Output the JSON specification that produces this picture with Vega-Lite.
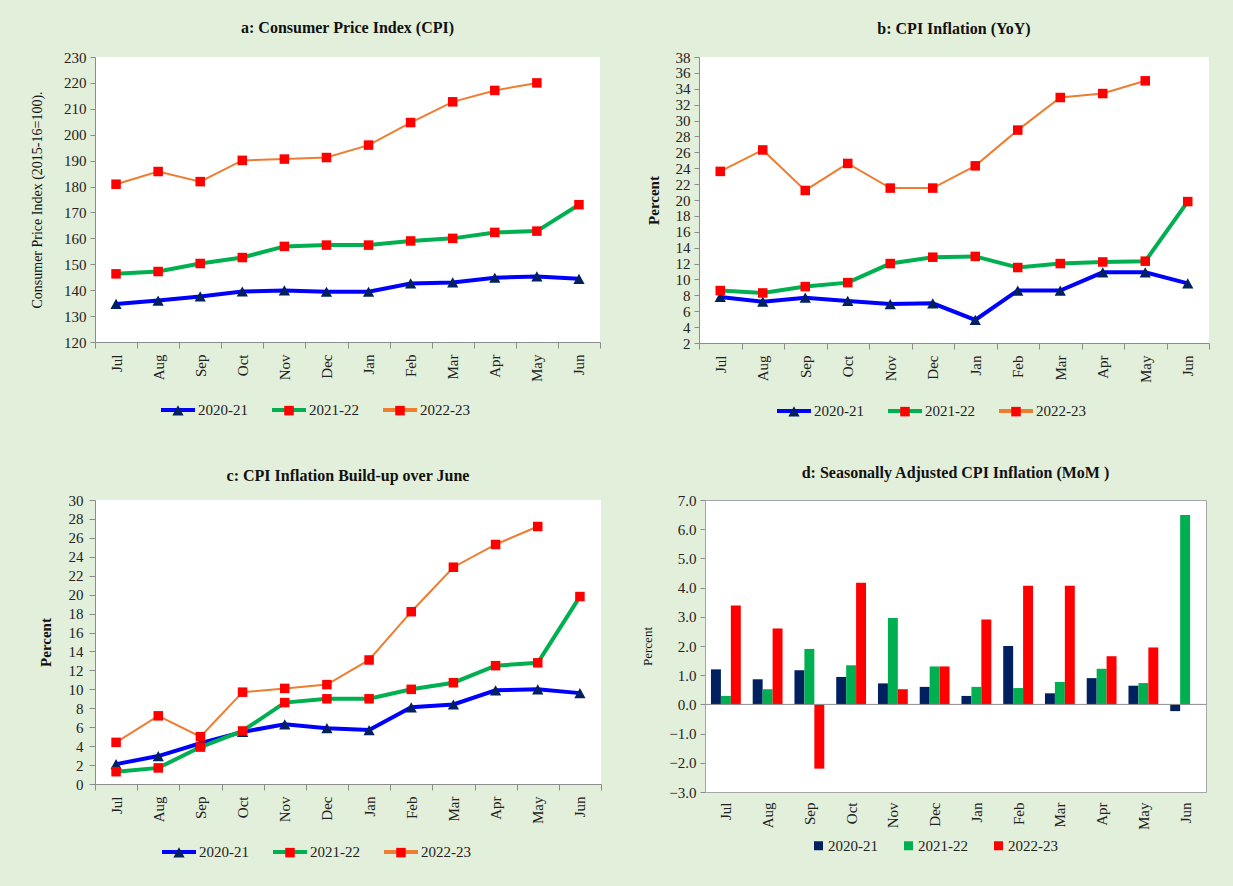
{
  "$schema": "https://vega.github.io/schema/vega-lite/v6.json",
  "background": "#e2efda",
  "padding": {"left": 30, "top": 20, "right": 23, "bottom": 35},
  "config": {
    "font": "Liberation Serif",
    "view": {"stroke": null, "fill": "white"},
    "axis": {"labelFont": "Liberation Serif", "labelFontSize": 15, "labelColor": "#222", "domainColor": "#8c8c8c", "tickColor": "#8c8c8c", "grid": false, "titleFont": "Liberation Serif", "titleColor": "#111"},
    "title": {"font": "Liberation Serif", "fontSize": 16, "fontWeight": "bold", "color": "#111", "anchor": "middle"},
    "legend": {"labelFont": "Liberation Serif", "labelFontSize": 15, "labelColor": "#222", "padding": 0}
  },
  "datasets": {
    "cpi": [
      {"m":"Jul","s":"2020-21","v":134.7},{"m":"Aug","s":"2020-21","v":136.0},{"m":"Sep","s":"2020-21","v":137.6},{"m":"Oct","s":"2020-21","v":139.5},{"m":"Nov","s":"2020-21","v":139.9},{"m":"Dec","s":"2020-21","v":139.4},{"m":"Jan","s":"2020-21","v":139.4},{"m":"Feb","s":"2020-21","v":142.6},{"m":"Mar","s":"2020-21","v":143.0},{"m":"Apr","s":"2020-21","v":144.8},{"m":"May","s":"2020-21","v":145.3},{"m":"Jun","s":"2020-21","v":144.4},
      {"m":"Jul","s":"2021-22","v":146.3},{"m":"Aug","s":"2021-22","v":147.2},{"m":"Sep","s":"2021-22","v":150.3},{"m":"Oct","s":"2021-22","v":152.6},{"m":"Nov","s":"2021-22","v":156.9},{"m":"Dec","s":"2021-22","v":157.4},{"m":"Jan","s":"2021-22","v":157.4},{"m":"Feb","s":"2021-22","v":159.0},{"m":"Mar","s":"2021-22","v":160.0},{"m":"Apr","s":"2021-22","v":162.3},{"m":"May","s":"2021-22","v":162.8},{"m":"Jun","s":"2021-22","v":173.0},
      {"m":"Jul","s":"2022-23","v":180.9},{"m":"Aug","s":"2022-23","v":185.8},{"m":"Sep","s":"2022-23","v":181.9},{"m":"Oct","s":"2022-23","v":190.1},{"m":"Nov","s":"2022-23","v":190.6},{"m":"Dec","s":"2022-23","v":191.2},{"m":"Jan","s":"2022-23","v":196.0},{"m":"Feb","s":"2022-23","v":204.7},{"m":"Mar","s":"2022-23","v":212.7},{"m":"Apr","s":"2022-23","v":217.1},{"m":"May","s":"2022-23","v":220.0}
    ],
    "yoy": [
      {"m":"Jul","s":"2020-21","v":7.8},{"m":"Aug","s":"2020-21","v":7.2},{"m":"Sep","s":"2020-21","v":7.7},{"m":"Oct","s":"2020-21","v":7.3},{"m":"Nov","s":"2020-21","v":6.9},{"m":"Dec","s":"2020-21","v":7.0},{"m":"Jan","s":"2020-21","v":4.9},{"m":"Feb","s":"2020-21","v":8.6},{"m":"Mar","s":"2020-21","v":8.6},{"m":"Apr","s":"2020-21","v":10.9},{"m":"May","s":"2020-21","v":10.9},{"m":"Jun","s":"2020-21","v":9.5},
      {"m":"Jul","s":"2021-22","v":8.6},{"m":"Aug","s":"2021-22","v":8.3},{"m":"Sep","s":"2021-22","v":9.1},{"m":"Oct","s":"2021-22","v":9.6},{"m":"Nov","s":"2021-22","v":12.0},{"m":"Dec","s":"2021-22","v":12.8},{"m":"Jan","s":"2021-22","v":12.9},{"m":"Feb","s":"2021-22","v":11.5},{"m":"Mar","s":"2021-22","v":12.0},{"m":"Apr","s":"2021-22","v":12.2},{"m":"May","s":"2021-22","v":12.3},{"m":"Jun","s":"2021-22","v":19.8},
      {"m":"Jul","s":"2022-23","v":23.6},{"m":"Aug","s":"2022-23","v":26.3},{"m":"Sep","s":"2022-23","v":21.2},{"m":"Oct","s":"2022-23","v":24.6},{"m":"Nov","s":"2022-23","v":21.5},{"m":"Dec","s":"2022-23","v":21.5},{"m":"Jan","s":"2022-23","v":24.3},{"m":"Feb","s":"2022-23","v":28.8},{"m":"Mar","s":"2022-23","v":32.9},{"m":"Apr","s":"2022-23","v":33.4},{"m":"May","s":"2022-23","v":35.0}
    ],
    "buildup": [
      {"m":"Jul","s":"2020-21","v":2.1},{"m":"Aug","s":"2020-21","v":2.95},{"m":"Sep","s":"2020-21","v":4.3},{"m":"Oct","s":"2020-21","v":5.5},{"m":"Nov","s":"2020-21","v":6.3},{"m":"Dec","s":"2020-21","v":5.9},{"m":"Jan","s":"2020-21","v":5.7},{"m":"Feb","s":"2020-21","v":8.1},{"m":"Mar","s":"2020-21","v":8.4},{"m":"Apr","s":"2020-21","v":9.9},{"m":"May","s":"2020-21","v":10.0},{"m":"Jun","s":"2020-21","v":9.6},
      {"m":"Jul","s":"2021-22","v":1.3},{"m":"Aug","s":"2021-22","v":1.7},{"m":"Sep","s":"2021-22","v":3.9},{"m":"Oct","s":"2021-22","v":5.6},{"m":"Nov","s":"2021-22","v":8.6},{"m":"Dec","s":"2021-22","v":9.0},{"m":"Jan","s":"2021-22","v":9.0},{"m":"Feb","s":"2021-22","v":10.0},{"m":"Mar","s":"2021-22","v":10.7},{"m":"Apr","s":"2021-22","v":12.5},{"m":"May","s":"2021-22","v":12.8},{"m":"Jun","s":"2021-22","v":19.8},
      {"m":"Jul","s":"2022-23","v":4.4},{"m":"Aug","s":"2022-23","v":7.2},{"m":"Sep","s":"2022-23","v":5.0},{"m":"Oct","s":"2022-23","v":9.7},{"m":"Nov","s":"2022-23","v":10.1},{"m":"Dec","s":"2022-23","v":10.5},{"m":"Jan","s":"2022-23","v":13.1},{"m":"Feb","s":"2022-23","v":18.2},{"m":"Mar","s":"2022-23","v":22.9},{"m":"Apr","s":"2022-23","v":25.3},{"m":"May","s":"2022-23","v":27.2}
    ],
    "mom": [
      {"m":"Jul","s":"2020-21","v":1.2},{"m":"Aug","s":"2020-21","v":0.86},{"m":"Sep","s":"2020-21","v":1.17},{"m":"Oct","s":"2020-21","v":0.94},{"m":"Nov","s":"2020-21","v":0.72},{"m":"Dec","s":"2020-21","v":0.6},{"m":"Jan","s":"2020-21","v":0.29},{"m":"Feb","s":"2020-21","v":2.0},{"m":"Mar","s":"2020-21","v":0.38},{"m":"Apr","s":"2020-21","v":0.9},{"m":"May","s":"2020-21","v":0.64},{"m":"Jun","s":"2020-21","v":-0.23},
      {"m":"Jul","s":"2021-22","v":0.29},{"m":"Aug","s":"2021-22","v":0.52},{"m":"Sep","s":"2021-22","v":1.9},{"m":"Oct","s":"2021-22","v":1.34},{"m":"Nov","s":"2021-22","v":2.96},{"m":"Dec","s":"2021-22","v":1.3},{"m":"Jan","s":"2021-22","v":0.6},{"m":"Feb","s":"2021-22","v":0.56},{"m":"Mar","s":"2021-22","v":0.77},{"m":"Apr","s":"2021-22","v":1.22},{"m":"May","s":"2021-22","v":0.73},{"m":"Jun","s":"2021-22","v":6.49},
      {"m":"Jul","s":"2022-23","v":3.39},{"m":"Aug","s":"2022-23","v":2.6},{"m":"Sep","s":"2022-23","v":-2.2},{"m":"Oct","s":"2022-23","v":4.17},{"m":"Nov","s":"2022-23","v":0.52},{"m":"Dec","s":"2022-23","v":1.3},{"m":"Jan","s":"2022-23","v":2.91},{"m":"Feb","s":"2022-23","v":4.06},{"m":"Mar","s":"2022-23","v":4.06},{"m":"Apr","s":"2022-23","v":1.65},{"m":"May","s":"2022-23","v":1.95}
    ]
  },
  "resolve": {"scale": {"color": "independent", "fill": "independent", "shape": "independent"}},
  "spacing": 39,
  "vconcat": [
    {
      "spacing": 45,
      "resolve": {"scale": {"color": "independent", "fill": "independent", "shape": "independent"}},
      "hconcat": [
        {
          "title": {"text": "a: Consumer Price Index (CPI)", "offset": 14},
          "width": 505, "height": 285,
          "data": {"name": "cpi"},
          "encoding": {
            "x": {"field": "m", "type": "nominal", "sort": ["Jul","Aug","Sep","Oct","Nov","Dec","Jan","Feb","Mar","Apr","May","Jun"], "bandPosition": 0.5, "scale": {"type": "band", "paddingInner": 0, "paddingOuter": 0},
                  "axis": {"title": null, "labelAngle": -90, "tickBand": "extent", "tickSize": 6, "labelPadding": 6}},
            "y": {"field": "v", "type": "quantitative", "scale": {"domain": [120, 230], "nice": false, "zero": false},
                  "axis": {"title": "Consumer Price  Index (2015-16=100).", "values": [120,130,140,150,160,170,180,190,200,210,220,230], "tickSize": 5, "labelPadding": 4, "minExtent": 40, "maxExtent": 40, "titlePadding": 11, "titleFontSize": 14, "titleFontWeight": "normal"}}
          },
          "layer": [
            {"transform": [{"filter": "datum.s !== '2022-23'"}],
             "mark": {"type": "line", "strokeWidth": 4},
             "encoding": {"color": {"field": "s", "type": "nominal", "scale": {"range": ["#0000ff", "#00b050", "#ed7d31"]},
                         "legend": {"title": null, "orient": "none", "legendX": 64, "legendY": 334, "direction": "horizontal", "symbolType": "stroke", "symbolSize": 1156, "symbolStrokeWidth": 4, "labelOffset": 1, "columnPadding": 16, "zindex": 1}}}},
            {"transform": [{"filter": "datum.s === '2022-23'"}],
             "mark": {"type": "line", "strokeWidth": 2},
             "encoding": {"color": {"field": "s", "type": "nominal", "scale": {"range": ["#0000ff", "#00b050", "#ed7d31"]},
                         "legend": {"title": null, "orient": "none", "legendX": 64, "legendY": 334, "direction": "horizontal", "symbolType": "stroke", "symbolSize": 1156, "symbolStrokeWidth": 4, "labelOffset": 1, "columnPadding": 16, "zindex": 1}}}},
            {"mark": {"type": "point", "filled": true, "opacity": 1, "size": 1156},
             "encoding": {
               "shape": {"field": "s", "type": "nominal", "scale": {"domain": ["2020-21","2021-22","2022-23"], "range": ["M-0.33,0.3L0,-0.3L0.33,0.3Z", "M-0.28,-0.28H0.28V0.28H-0.28Z", "M-0.28,-0.28H0.28V0.28H-0.28Z"]},
                         "legend": {"title": null, "orient": "none", "legendX": 64, "legendY": 334, "direction": "horizontal", "symbolSize": 1156, "symbolStrokeWidth": 4, "symbolStrokeColor": "transparent", "labelOffset": 1, "columnPadding": 72, "labelExpr": "''", "zindex": 2}},
               "fill": {"field": "s", "type": "nominal", "scale": {"domain": ["2020-21","2021-22","2022-23"], "range": ["#002060", "#ff0000", "#ff0000"]},
                        "legend": {"title": null, "orient": "none", "legendX": 64, "legendY": 334, "direction": "horizontal", "symbolSize": 1156, "symbolStrokeWidth": 4, "symbolStrokeColor": "transparent", "labelOffset": 1, "columnPadding": 72, "labelExpr": "''", "zindex": 2}}
             }}
          ]
        },
        {
          "title": {"text": "b: CPI Inflation (YoY)", "offset": 13},
          "width": 510, "height": 286,
          "data": {"name": "yoy"},
          "encoding": {
            "x": {"field": "m", "type": "nominal", "sort": ["Jul","Aug","Sep","Oct","Nov","Dec","Jan","Feb","Mar","Apr","May","Jun"], "bandPosition": 0.5, "scale": {"type": "band", "paddingInner": 0, "paddingOuter": 0},
                  "axis": {"title": null, "labelAngle": -90, "tickBand": "extent", "tickSize": 6, "labelPadding": 6}},
            "y": {"field": "v", "type": "quantitative", "scale": {"domain": [2, 38], "nice": false, "zero": false},
                  "axis": {"title": "Percent", "values": [2,4,6,8,10,12,14,16,18,20,22,24,26,28,30,32,34,36,38], "tickSize": 5, "labelPadding": 4, "minExtent": 30, "maxExtent": 30, "titlePadding": 8, "titleFontSize": 15, "titleFontWeight": "bold", "labelOverlap": false}}
          },
          "layer": [
            {"transform": [{"filter": "datum.s !== '2022-23'"}],
             "mark": {"type": "line", "strokeWidth": 4},
             "encoding": {"color": {"field": "s", "type": "nominal", "scale": {"range": ["#0000ff", "#00b050", "#ed7d31"]},
                         "legend": {"title": null, "orient": "none", "legendX": 76, "legendY": 335, "direction": "horizontal", "symbolType": "stroke", "symbolSize": 1156, "symbolStrokeWidth": 4, "labelOffset": 1, "columnPadding": 16, "zindex": 1}}}},
            {"transform": [{"filter": "datum.s === '2022-23'"}],
             "mark": {"type": "line", "strokeWidth": 2},
             "encoding": {"color": {"field": "s", "type": "nominal", "scale": {"range": ["#0000ff", "#00b050", "#ed7d31"]},
                         "legend": {"title": null, "orient": "none", "legendX": 76, "legendY": 335, "direction": "horizontal", "symbolType": "stroke", "symbolSize": 1156, "symbolStrokeWidth": 4, "labelOffset": 1, "columnPadding": 16, "zindex": 1}}}},
            {"mark": {"type": "point", "filled": true, "opacity": 1, "size": 1156},
             "encoding": {
               "shape": {"field": "s", "type": "nominal", "scale": {"domain": ["2020-21","2021-22","2022-23"], "range": ["M-0.33,0.3L0,-0.3L0.33,0.3Z", "M-0.28,-0.28H0.28V0.28H-0.28Z", "M-0.28,-0.28H0.28V0.28H-0.28Z"]},
                         "legend": {"title": null, "orient": "none", "legendX": 76, "legendY": 335, "direction": "horizontal", "symbolSize": 1156, "symbolStrokeWidth": 4, "symbolStrokeColor": "transparent", "labelOffset": 1, "columnPadding": 72, "labelExpr": "''", "zindex": 2}},
               "fill": {"field": "s", "type": "nominal", "scale": {"domain": ["2020-21","2021-22","2022-23"], "range": ["#002060", "#ff0000", "#ff0000"]},
                        "legend": {"title": null, "orient": "none", "legendX": 76, "legendY": 335, "direction": "horizontal", "symbolSize": 1156, "symbolStrokeWidth": 4, "symbolStrokeColor": "transparent", "labelOffset": 1, "columnPadding": 72, "labelExpr": "''", "zindex": 2}}
             }}
          ]
        }
      ]
    },
    {
      "spacing": 38,
      "resolve": {"scale": {"color": "independent", "fill": "independent", "shape": "independent"}},
      "hconcat": [
        {
          "title": {"text": "c: CPI Inflation Build-up over June", "offset": 9},
          "width": 506, "height": 284,
          "data": {"name": "buildup"},
          "encoding": {
            "x": {"field": "m", "type": "nominal", "sort": ["Jul","Aug","Sep","Oct","Nov","Dec","Jan","Feb","Mar","Apr","May","Jun"], "bandPosition": 0.5, "scale": {"type": "band", "paddingInner": 0, "paddingOuter": 0},
                  "axis": {"title": null, "labelAngle": -90, "tickBand": "extent", "tickSize": 6, "labelPadding": 6}},
            "y": {"field": "v", "type": "quantitative", "scale": {"domain": [0, 30], "nice": false},
                  "axis": {"title": "Percent", "values": [0,2,4,6,8,10,12,14,16,18,20,22,24,26,28,30], "tickSize": 6, "labelPadding": 6, "minExtent": 30, "maxExtent": 30, "titlePadding": 12, "titleFontSize": 15, "titleFontWeight": "bold", "labelOverlap": false}}
          },
          "layer": [
            {"transform": [{"filter": "datum.s !== '2022-23'"}],
             "mark": {"type": "line", "strokeWidth": 4},
             "encoding": {"color": {"field": "s", "type": "nominal", "scale": {"range": ["#0000ff", "#00b050", "#ed7d31"]},
                         "legend": {"title": null, "orient": "none", "legendX": 65, "legendY": 333, "direction": "horizontal", "symbolType": "stroke", "symbolSize": 1156, "symbolStrokeWidth": 4, "labelOffset": 1, "columnPadding": 16, "zindex": 1}}}},
            {"transform": [{"filter": "datum.s === '2022-23'"}],
             "mark": {"type": "line", "strokeWidth": 2},
             "encoding": {"color": {"field": "s", "type": "nominal", "scale": {"range": ["#0000ff", "#00b050", "#ed7d31"]},
                         "legend": {"title": null, "orient": "none", "legendX": 65, "legendY": 333, "direction": "horizontal", "symbolType": "stroke", "symbolSize": 1156, "symbolStrokeWidth": 4, "labelOffset": 1, "columnPadding": 16, "zindex": 1}}}},
            {"mark": {"type": "point", "filled": true, "opacity": 1, "size": 1156},
             "encoding": {
               "shape": {"field": "s", "type": "nominal", "scale": {"domain": ["2020-21","2021-22","2022-23"], "range": ["M-0.33,0.3L0,-0.3L0.33,0.3Z", "M-0.28,-0.28H0.28V0.28H-0.28Z", "M-0.28,-0.28H0.28V0.28H-0.28Z"]},
                         "legend": {"title": null, "orient": "none", "legendX": 65, "legendY": 333, "direction": "horizontal", "symbolSize": 1156, "symbolStrokeWidth": 4, "symbolStrokeColor": "transparent", "labelOffset": 1, "columnPadding": 72, "labelExpr": "''", "zindex": 2}},
               "fill": {"field": "s", "type": "nominal", "scale": {"domain": ["2020-21","2021-22","2022-23"], "range": ["#002060", "#ff0000", "#ff0000"]},
                        "legend": {"title": null, "orient": "none", "legendX": 65, "legendY": 333, "direction": "horizontal", "symbolSize": 1156, "symbolStrokeWidth": 4, "symbolStrokeColor": "transparent", "labelOffset": 1, "columnPadding": 72, "labelExpr": "''", "zindex": 2}}
             }}
          ]
        },
        {
          "title": {"text": "d: Seasonally Adjusted CPI Inflation (MoM )", "offset": 12},
          "width": 501, "height": 292,
          "view": {"stroke": "#a6a6a6", "strokeWidth": 1, "fill": "white"},
          "layer": [
            {
              "data": {"name": "mom"},
              "mark": {"type": "bar"},
              "encoding": {
                "x": {"field": "m", "type": "nominal", "sort": ["Jul","Aug","Sep","Oct","Nov","Dec","Jan","Feb","Mar","Apr","May","Jun"], "scale": {"type": "band", "paddingInner": 0, "paddingOuter": 0},
                      "axis": {"title": null, "labelAngle": -90, "tickBand": "extent", "ticks": false, "domain": false, "labelPadding": 10}},
                "xOffset": {"field": "s", "type": "nominal", "scale": {"paddingInner": 0, "paddingOuter": 0.6}},
                "y": {"field": "v", "type": "quantitative", "scale": {"domain": [-3, 7], "nice": false},
                      "axis": {"title": "Percent", "values": [-3,-2,-1,0,1,2,3,4,5,6,7], "format": ".1f", "labelOverlap": false, "tickSize": 5, "labelPadding": 4, "minExtent": 40, "maxExtent": 40, "titlePadding": 11, "titleFontSize": 13, "titleFontWeight": "normal", "domainColor": "#a6a6a6"}},
                "color": {"field": "s", "type": "nominal", "scale": {"range": ["#002060", "#00b050", "#ff0000"]},
                          "legend": {"title": null, "orient": "none", "legendX": 106, "legendY": 338, "direction": "horizontal", "symbolType": "square", "symbolSize": 81, "labelOffset": 2, "columnPadding": 23}}
              }
            },
            {
              "data": {"values": [{"zero": 0}]},
              "mark": {"type": "rule", "color": "#8c8c8c", "strokeWidth": 1},
              "encoding": {"y": {"field": "zero", "type": "quantitative", "scale": {"domain": [-3, 7], "nice": false},
                                 "axis": {"title": "Percent", "values": [-3,-2,-1,0,1,2,3,4,5,6,7], "format": ".1f", "labelOverlap": false, "tickSize": 5, "labelPadding": 4, "minExtent": 40, "maxExtent": 40, "titlePadding": 11, "titleFontSize": 13, "titleFontWeight": "normal", "domainColor": "#a6a6a6"}}}
            }
          ]
        }
      ]
    }
  ]
}
